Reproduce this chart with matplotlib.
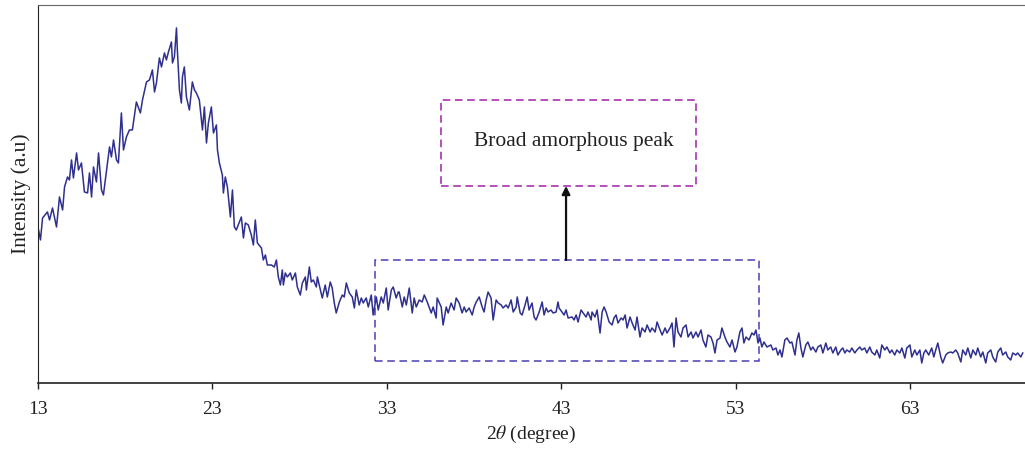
import matplotlib.pyplot as plt
from matplotlib.patches import Rectangle

# XRD pattern (2theta in degrees, intensity in a.u.)
two_theta = [
    13.03, 13.14, 13.26, 13.54, 13.66, 13.83, 14.06, 14.23, 14.41, 14.52, 14.69, 14.80, 14.92, 15.03,
    15.21, 15.32, 15.49, 15.66, 15.84, 15.95, 16.07, 16.18, 16.35, 16.47, 16.64, 16.75, 16.93, 17.10,
    17.21, 17.33, 17.50, 17.61, 17.78, 17.90, 18.07, 18.24, 18.41, 18.64, 18.87, 18.99, 19.22, 19.39,
    19.56, 19.68, 19.79, 19.96, 20.08, 20.25, 20.36, 20.48, 20.65, 20.71, 20.82, 20.94, 20.99, 21.11,
    21.22, 21.28, 21.39, 21.51, 21.68, 21.85, 21.97, 22.08, 22.25, 22.43, 22.54, 22.66, 22.77, 22.94,
    23.06, 23.23, 23.29, 23.40, 23.57, 23.63, 23.74, 23.86, 24.03, 24.15, 24.26, 24.37, 24.66, 24.78,
    24.89, 25.06, 25.23, 25.35, 25.46, 25.58, 25.81, 25.92, 26.04, 26.15, 26.38, 26.55, 26.67, 26.78,
    26.90, 27.01, 27.07, 27.18, 27.30, 27.47, 27.58, 27.76, 27.87, 28.04, 28.16, 28.33, 28.39, 28.56,
    28.67, 28.79, 28.96, 29.02, 29.19, 29.30, 29.47, 29.59, 29.76, 29.87, 29.99, 30.10, 30.28, 30.45,
    30.56, 30.68, 30.85, 31.02, 31.14, 31.25, 31.42, 31.54, 31.65, 31.82, 31.94, 32.11, 32.22, 32.40,
    32.51, 32.68, 32.80, 32.97, 33.08, 33.26, 33.37, 33.54, 33.66, 33.71, 33.89, 34.00, 34.12, 34.29,
    34.46, 34.57, 34.69, 34.86, 35.03, 35.15, 35.32, 35.55, 35.66, 35.83, 35.89, 36.12, 36.23, 36.41,
    36.52, 36.69, 36.86, 36.98, 37.15, 37.32, 37.44, 37.55, 37.72, 37.90, 38.01, 38.13, 38.30, 38.47,
    38.58, 38.70, 38.81, 38.98, 39.10, 39.27, 39.39, 39.56, 39.67, 39.84, 39.96, 40.13, 40.25, 40.42,
    40.48, 40.65, 40.76, 40.93, 41.05, 41.16, 41.33, 41.45, 41.56, 41.74, 41.91, 42.02, 42.14, 42.25,
    42.42, 42.54, 42.71, 42.82, 42.88, 43.05, 43.17, 43.28, 43.40, 43.63, 43.74, 43.86, 43.97, 44.14,
    44.26, 44.43, 44.54, 44.72, 44.77, 44.94, 45.06, 45.23, 45.35, 45.46, 45.58, 45.75, 45.92, 46.03,
    46.15, 46.26, 46.44, 46.55, 46.67, 46.78, 46.95, 47.07, 47.24, 47.35, 47.52, 47.64, 47.81, 47.93,
    48.10, 48.21, 48.39, 48.50, 48.67, 48.79, 48.96, 49.07, 49.24, 49.36, 49.47, 49.59, 49.70, 49.87,
    49.99, 50.16, 50.28, 50.45, 50.56, 50.73, 50.85, 51.02, 51.13, 51.30, 51.42, 51.59, 51.71, 51.82,
    51.94, 52.11, 52.22, 52.39, 52.51, 52.68, 52.80, 52.97, 53.08, 53.25, 53.37, 53.48, 53.60, 53.77,
    53.94, 54.06, 54.17, 54.29, 54.40, 54.51, 54.63, 54.80, 55.03, 55.14, 55.32, 55.43, 55.55, 55.66,
    55.83, 55.95, 56.12, 56.23, 56.41, 56.52, 56.63, 56.75, 56.86, 57.03, 57.15, 57.32, 57.43, 57.61,
    57.72, 57.89, 58.01, 58.18, 58.29, 58.46, 58.58, 58.75, 58.87, 59.04, 59.15, 59.27, 59.38, 59.55,
    59.67, 59.84, 59.96, 60.13, 60.24, 60.41, 60.53, 60.70, 60.81, 60.99, 61.10, 61.27, 61.39, 61.56,
    61.68, 61.85, 61.96, 62.13, 62.25, 62.42, 62.54, 62.71, 62.82, 63.00, 63.11, 63.28, 63.40, 63.57,
    63.68, 63.80, 63.91, 64.08, 64.25, 64.37, 64.48, 64.60, 64.77, 64.88, 65.06, 65.17, 65.34, 65.46,
    65.63, 65.74, 65.92, 66.03, 66.20, 66.32, 66.49, 66.61, 66.78, 66.89, 67.06, 67.18, 67.35, 67.46,
    67.64, 67.75, 67.92, 68.04, 68.21, 68.32, 68.50, 68.61, 68.78, 68.90, 69.07, 69.18, 69.36, 69.47,
]
intensity = [
    153, 143, 165, 171, 163, 175, 156, 186, 173, 196, 206, 203, 223, 205,
    230, 213, 220, 191, 190, 210, 186, 216, 201, 230, 193, 188, 213, 236,
    226, 243, 223, 220, 270, 233, 246, 253, 253, 281, 270, 283, 301, 303,
    313, 291, 300, 325, 316, 330, 323, 331, 341, 320, 326, 355, 333, 293,
    280, 306, 316, 286, 273, 301, 293, 290, 283, 253, 276, 240, 260, 276,
    250, 258, 233, 220, 208, 190, 206, 196, 166, 193, 156, 153, 166, 145,
    160, 158, 148, 138, 163, 140, 135, 123, 128, 118, 118, 116, 123, 106,
    98, 113, 98, 110, 106, 110, 103, 110, 96, 88, 100, 106, 93, 116,
    101, 103, 96, 106, 93, 85, 98, 86, 101, 95, 80, 70, 81, 88,
    86, 100, 90, 86, 75, 93, 78, 85, 80, 85, 76, 88, 68, 86,
    73, 86, 80, 95, 73, 93, 96, 85, 91, 91, 76, 86, 78, 95,
    70, 85, 76, 83, 81, 88, 81, 70, 76, 65, 85, 76, 58, 76,
    70, 80, 73, 85, 80, 70, 76, 71, 75, 68, 76, 81, 86, 76,
    71, 83, 91, 85, 63, 83, 80, 78, 75, 78, 75, 83, 71, 76,
    86, 70, 68, 78, 86, 73, 80, 66, 63, 71, 81, 68, 75, 71,
    73, 70, 71, 81, 75, 71, 68, 73, 65, 66, 63, 68, 61, 73,
    70, 66, 71, 63, 71, 66, 73, 50, 71, 76, 71, 61, 58, 65,
    68, 60, 65, 63, 68, 55, 66, 60, 53, 66, 46, 55, 51, 58,
    51, 55, 51, 61, 53, 48, 55, 50, 55, 60, 36, 65, 51, 46,
    55, 58, 46, 51, 45, 51, 46, 53, 43, 36, 48, 46, 40, 30,
    43, 45, 55, 46, 41, 36, 43, 31, 36, 51, 55, 40, 46, 43,
    50, 48, 53, 40, 45, 36, 41, 36, 38, 33, 35, 28, 33, 26,
    43, 45, 40, 41, 28, 43, 50, 35, 26, 38, 41, 33, 36, 31,
    36, 38, 30, 40, 33, 36, 30, 36, 28, 33, 35, 30, 33, 31,
    35, 30, 33, 36, 33, 35, 30, 36, 31, 28, 33, 25, 38, 33,
    36, 30, 33, 28, 33, 30, 35, 25, 35, 38, 26, 33, 28, 33,
    20, 30, 33, 28, 35, 26, 33, 40, 26, 20, 28, 30, 31, 30,
    33, 30, 21, 33, 28, 35, 25, 33, 28, 35, 26, 31, 20, 30,
    33, 26, 21, 31, 35, 28, 31, 26, 23, 30, 28, 30, 26, 30,
]

# annotation regions (data coordinates)
region_x = [32.3, 54.35]
region_y = [22, 123]
label_x = [36.1, 50.75]
label_y = [197, 283]

plt.rcParams['font.family'] = ['Liberation Serif', 'DejaVu Serif']
plt.rcParams['mathtext.fontset'] = 'stix'

fig = plt.figure(figsize=(10.25, 4.49), dpi=100)
ax = fig.add_axes([0.0371, 0.147, 0.9629, 0.842])

ax.plot(two_theta, intensity, color='#2E2F8F', linewidth=1.1)

ax.set_xlim(13, 69.6)
ax.set_ylim(0, 378)
ax.set_xticks([13, 23, 33, 43, 53, 63])
ax.set_yticks([])
ax.tick_params(axis='x', direction='out', length=4, width=1, labelsize=14, pad=9, colors='#222222')

ax.spines['right'].set_visible(False)
ax.spines['top'].set_color('#666666')
ax.spines['left'].set_color('#222222')
ax.spines['bottom'].set_color('#222222')
ax.spines['bottom'].set_linewidth(1.2)

ax.set_xlabel(r'2$\mathit{\theta}$ (degree)', fontsize=14, color='#222222', labelpad=4)
ax.set_ylabel('Intensity (a.u)', fontsize=15.5, color='#222222', labelpad=5)

# dashed box round the amorphous hump
ax.add_patch(Rectangle((region_x[0], region_y[0]), region_x[1] - region_x[0], region_y[1] - region_y[0],
                       fill=False, edgecolor='#4A3FB5', linestyle=(0, (5, 3)), linewidth=1.1))
# dashed box for the label
ax.add_patch(Rectangle((label_x[0], label_y[0]), label_x[1] - label_x[0], label_y[1] - label_y[0],
                       fill=False, edgecolor='#A020A8', linestyle=(0, (5, 3)), linewidth=1.1))
ax.text((label_x[0] + label_x[1]) / 2 + 0.3, (label_y[0] + label_y[1]) / 2 + 1, 'Broad amorphous peak',
        ha='center', va='center', fontsize=15.5, color='#222222')

arrow_x = 43.28
ax.annotate('', xy=(arrow_x, label_y[0]), xytext=(arrow_x, region_y[1]),
            arrowprops=dict(arrowstyle='-|>', color='#111111', lw=1.6, mutation_scale=12,
                            shrinkA=0, shrinkB=0))

fig.savefig('out.png', dpi=100)
